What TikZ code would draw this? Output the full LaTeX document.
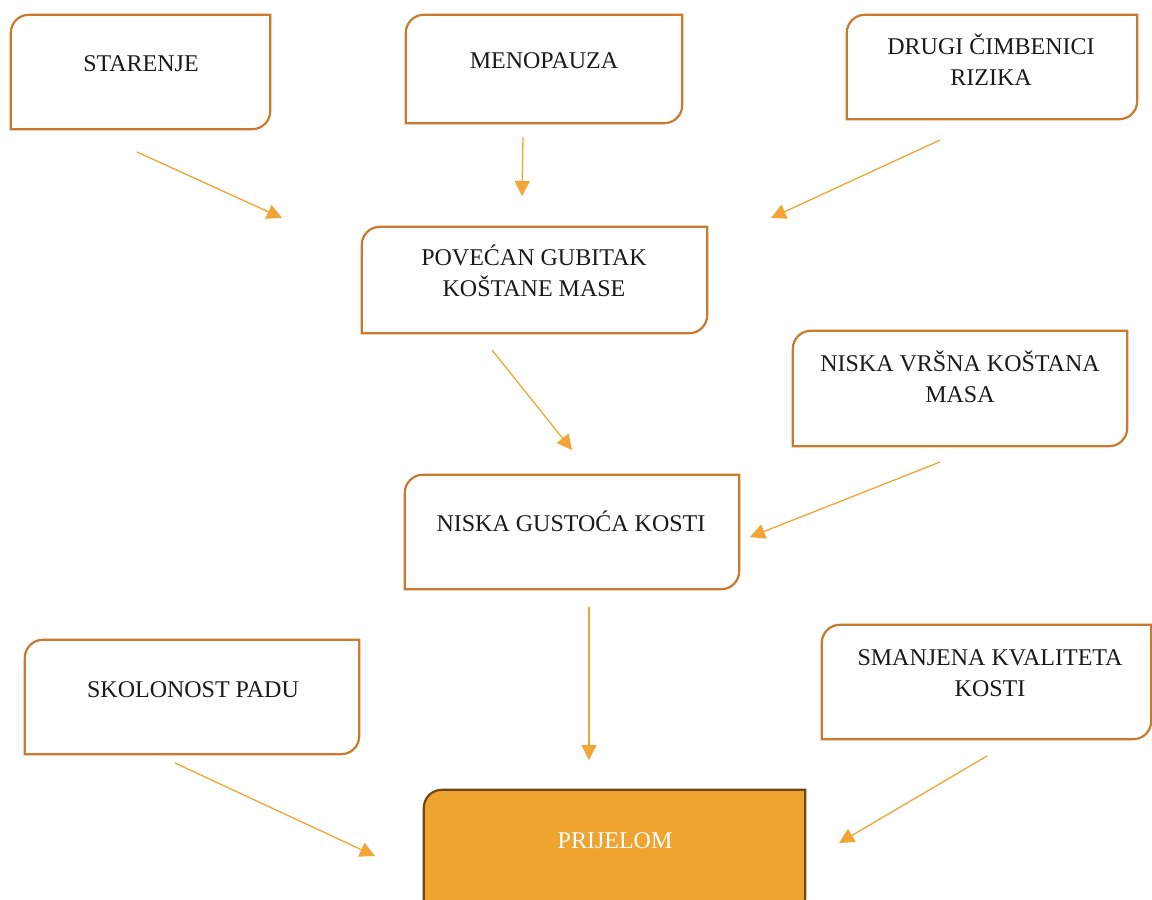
\documentclass[tikz,border=0pt]{standalone}
\usepackage{fontspec}
\setmainfont{Liberation Serif}
\usetikzlibrary{arrows.meta,fit}
\definecolor{bord}{HTML}{C97A2F}
\definecolor{arr}{HTML}{F0A535}
\definecolor{fillo}{HTML}{EFA331}
\definecolor{darkb}{HTML}{6E4A12}
\definecolor{txtc}{HTML}{1A1A1A}
\newcommand\mkbox[6]{%
  \path (#2,-#3) coordinate (#1-a) (#4,-#5) coordinate (#1-b);
  \node[fit=(#1-a)(#1-b), inner sep=0pt] (#1) {};
  \draw[#6] (#1.south west) -- ([yshift=-18pt]#1.north west)
    arc[start angle=180,end angle=90,radius=18pt] -- (#1.north east)
    -- ([yshift=18pt]#1.south east)
    arc[start angle=0,end angle=-90,radius=18pt] -- cycle;}
\begin{document}
\begin{tikzpicture}[x=1pt,y=1pt,
  outl/.style={draw=bord, line width=2.2pt, fill=white},
  outlf/.style={draw=darkb, line width=2.2pt, fill=fillo},
  lbl/.style={anchor=base, align=center, inner sep=0pt, text=txtc,
    font=\fontsize{24}{31}\selectfont},
  lblw/.style={lbl, text=white},
  con/.style={draw=arr, line width=1.3pt, -{Triangle[length=15pt,width=15pt]}}]
\useasboundingbox (0,0) rectangle (1152,-900);
\fill[white] (0,0) rectangle (1152,-900);
% boxes
\mkbox{star}{11}{15}{270}{129}{outl}
\mkbox{meno}{406}{15}{682}{123}{outl}
\mkbox{drugi}{847}{15}{1137}{119}{outl}
\mkbox{pov}{362}{227}{707}{333}{outl}
\mkbox{vrs}{793}{331}{1127}{446}{outl}
\mkbox{gus}{405}{475}{739}{589}{outl}
\mkbox{pad}{25}{640}{359}{754}{outl}
\mkbox{kval}{822}{625}{1151}{739}{outl}
\mkbox{prij}{424}{790}{805}{915}{outlf}
% labels (base anchor = baseline of the last line)
\node[lbl] (starT) at (141,-71) {STARENJE};
\node[lbl] (menoT) at (544,-68) {MENOPAUZA};
\node[lbl] (drugiT) at (991,-85) {DRUGI ČIMBENICI\\RIZIKA};
\node[lbl] (povT) at (534,-296) {POVEĆAN GUBITAK\\KOŠTANE MASE};
\node[lbl] (vrsT) at (960,-402) {NISKA VRŠNA KOŠTANA\\MASA};
\node[lbl] (gusT) at (571,-531) {NISKA GUSTOĆA KOSTI};
\node[lbl] (padT) at (193,-697) {SKOLONOST PADU};
\node[lbl] (kvalT) at (990,-696) {SMANJENA KVALITETA\\KOSTI};
\node[lblw] (prijT) at (615,-848) {PRIJELOM};
% connector end points
\coordinate (a1) at (137,-152); \coordinate (b1) at (282,-218);
\coordinate (a2) at (523,-137); \coordinate (b2) at (522,-196);
\coordinate (a3) at (940,-140); \coordinate (b3) at (771,-218);
\coordinate (a4) at (492,-350); \coordinate (b4) at (572,-450);
\coordinate (a5) at (940,-462); \coordinate (b5) at (750,-537);
\coordinate (a6) at (589,-607); \coordinate (b6) at (589,-760);
\coordinate (a7) at (175,-763); \coordinate (b7) at (375,-856);
\coordinate (a8) at (987,-756); \coordinate (b8) at (839,-843);
\foreach \i in {1,...,8} {\draw[con] (a\i) -- (b\i);}
\end{tikzpicture}
\end{document}
